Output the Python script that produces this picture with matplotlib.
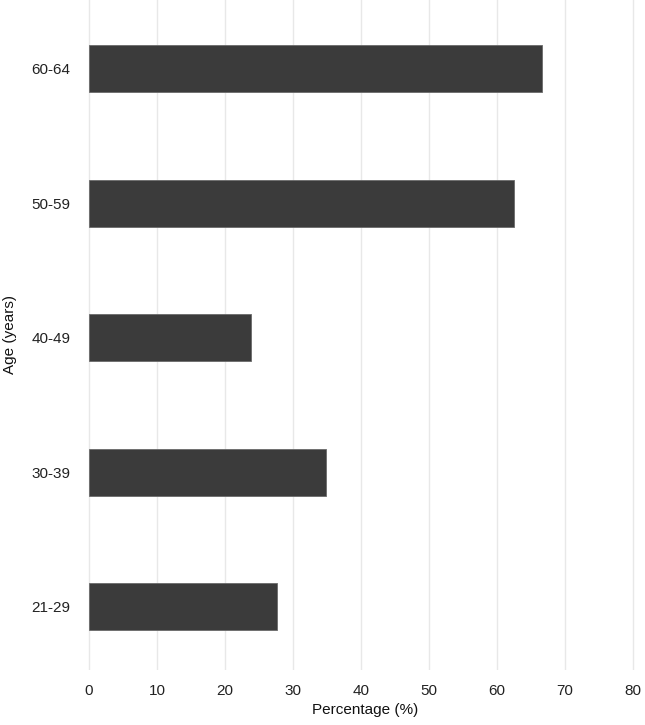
import matplotlib.pyplot as plt

plt.rcParams['font.family'] = ['Liberation Sans', 'DejaVu Sans']

# Data
ages = ['21-29', '30-39', '40-49', '50-59', '60-64']
percent = [27.7, 34.9, 23.8, 62.6, 66.7]
xticks = [0, 10, 20, 30, 40, 50, 60, 70, 80]

fig = plt.figure(figsize=(6.45, 7.25), dpi=100)
ax = fig.add_axes([0.1327, 0.0759, 0.8673, 0.9241])

ax.barh(range(len(ages)), percent, height=0.35, color='#3b3b3b',
        edgecolor='#6a6a6a', linewidth=0.6, zorder=3)

ax.set_yticks(range(len(ages)))
ax.set_yticklabels(ages)
ax.set_xticks(xticks)
ax.set_xlim(-0.5, 81.8)
ax.set_ylim(-0.47, 4.51)

ax.grid(axis='x', color='#e8e8e8', linewidth=1.0, zorder=0)
ax.grid(axis='y', visible=False)
for s in ax.spines.values():
    s.set_visible(False)
ax.tick_params(length=0, labelsize=11, colors='#222222')
ax.tick_params(axis='x', pad=10)
ax.tick_params(axis='y', pad=11)

ax.set_xlabel('Percentage (%)', fontsize=11, color='#111111', labelpad=4)
ax.set_ylabel('Age (years)', fontsize=11, color='#111111', labelpad=10)

fig.savefig('out.png', dpi=100)
